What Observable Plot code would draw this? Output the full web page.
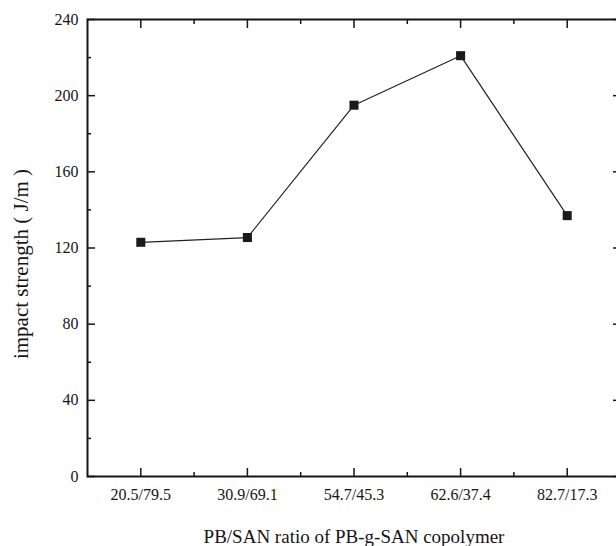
<!DOCTYPE html>
<html><head><meta charset="utf-8">
<script src="https://cdn.jsdelivr.net/npm/d3@7"></script>
<script src="https://cdn.jsdelivr.net/npm/@observablehq/plot@0.6"></script>
<style>html,body{margin:0;padding:0;background:#fff;overflow:hidden}</style>
</head><body><div id="chart"></div>
<script>
const ratios = ["20.5/79.5", "30.9/69.1", "54.7/45.3", "62.6/37.4", "82.7/17.3"];
const impact = [123, 125.5, 195, 221, 137];
const yMajor = [0, 40, 80, 120, 160, 200, 240];
const yMinor = [20, 60, 100, 140, 180, 220];
const xMajor = [1, 2, 3, 4, 5];
const xMinor = [1.5, 2.5, 3.5, 4.5];
const xTitle = "PB/SAN ratio of PB-g-SAN copolymer";
const yTitle = "impact strength ( J/m )";

const data = ratios.map((r, i) => ({pos: i + 1, ratio: r, impact: impact[i]}));
const ink = "#151515";
const blank = () => "";

const chart = Plot.plot({
  width: 616, height: 546,
  marginLeft: 87, marginTop: 19, marginBottom: 70, marginRight: -4,
  style: {fontFamily: "'Liberation Serif', 'Times New Roman', serif", fontSize: "16px", color: ink, background: "#fff"},
  x: {domain: [0.5, 5.5]},
  y: {domain: [0, 240]},
  marks: [
    Plot.frame({stroke: ink, strokeWidth: 2}),
    // inward ticks: bottom
    Plot.axisX(xMajor, {anchor: "bottom", tickSize: -8, tickFormat: blank, label: null, stroke: ink, strokeWidth: 1.5}),
    Plot.axisX(xMinor, {anchor: "bottom", tickSize: -4, tickFormat: blank, label: null, stroke: ink, strokeWidth: 1.5}),
    // top
    Plot.axisX(xMajor, {anchor: "top", tickSize: -8, tickFormat: blank, label: null, stroke: ink, strokeWidth: 1.5}),
    Plot.axisX(xMinor, {anchor: "top", tickSize: -4, tickFormat: blank, label: null, stroke: ink, strokeWidth: 1.5}),
    // left
    Plot.axisY(yMajor, {anchor: "left", tickSize: -8, tickFormat: blank, label: null, stroke: ink, strokeWidth: 1.5}),
    Plot.axisY(yMinor, {anchor: "left", tickSize: -4, tickFormat: blank, label: null, stroke: ink, strokeWidth: 1.5}),
    // right
    Plot.axisY(yMajor, {anchor: "right", tickSize: -8, tickFormat: blank, label: null, stroke: ink, strokeWidth: 1.5}),
    Plot.axisY(yMinor, {anchor: "right", tickSize: -4, tickFormat: blank, label: null, stroke: ink, strokeWidth: 1.5}),
    // labels
    Plot.axisX(xMajor, {anchor: "bottom", tickSize: 0, tickPadding: 12, tickFormat: d => ratios[d - 1], label: null, fontSize: 16, fill: ink}),
    Plot.axisY(yMajor, {anchor: "left", tickSize: 0, tickPadding: 9, label: null, fontSize: 16, fill: ink}),
    // titles
    Plot.text([xTitle], {frameAnchor: "bottom", text: d => d, textAnchor: "middle", lineAnchor: "middle", dy: 60, fontSize: 19, fill: ink}),
    Plot.text([yTitle], {frameAnchor: "left", text: d => d, textAnchor: "middle", lineAnchor: "middle", rotate: -90, dx: -66, dy: 16, fontSize: 21, fill: ink}),
    // data
    Plot.line(data, {x: "pos", y: "impact", stroke: "#222", strokeWidth: 1.2}),
    Plot.dot(data, {x: "pos", y: "impact", symbol: "square", r: 5.1, fill: "#1a1a1a", stroke: "none"})
  ]
});
document.getElementById("chart").append(chart);
</script>
</body></html>
